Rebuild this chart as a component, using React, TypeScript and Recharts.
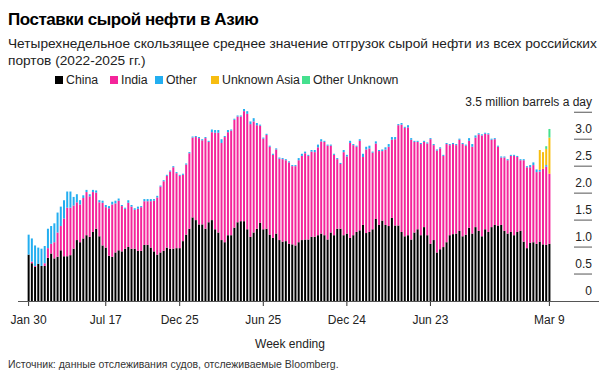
import React from 'react';
import { BarChart, Bar, XAxis, YAxis } from 'recharts';

// weekly values, million barrels a day, week ending Jan 30 2022 .. Mar 9 2025
const china = [
  0.86, 0.70, 0.63, 0.69, 0.65, 0.65, 0.80, 0.88, 0.79, 0.82,
  0.94, 0.83, 0.83, 0.85, 0.97, 1.13, 1.09, 1.16, 1.22, 1.19,
  1.28, 1.34, 1.20, 1.03, 0.99, 0.84, 0.82, 0.90, 0.94, 0.92,
  0.97, 1.00, 0.97, 0.97, 0.93, 0.93, 1.04, 1.04, 0.99, 0.92,
  0.86, 0.90, 0.93, 0.99, 0.97, 0.97, 0.98, 0.98, 1.11, 1.23,
  1.34, 1.55, 1.50, 1.42, 1.42, 1.34, 1.46, 1.50, 1.33, 1.27,
  1.13, 1.09, 1.22, 1.22, 1.36, 1.46, 1.48, 1.48, 1.33, 1.19,
  1.27, 1.34, 1.45, 1.33, 1.34, 1.23, 1.17, 1.25, 1.13, 1.10,
  1.11, 1.06, 1.05, 1.03, 1.09, 1.13, 1.14, 1.14, 1.19, 1.19,
  1.22, 1.25, 1.22, 1.14, 1.27, 1.22, 1.34, 1.34, 1.22, 1.25,
  1.17, 1.22, 1.28, 1.31, 1.41, 1.26, 1.28, 1.33, 1.52, 1.41,
  1.49, 1.41, 1.39, 1.54, 1.40, 1.40, 1.28, 1.20, 1.22, 1.14,
  1.27, 1.33, 1.22, 1.37, 1.22, 1.06, 1.13, 0.90, 0.96, 1.00,
  1.09, 1.22, 1.24, 1.25, 1.30, 1.20, 1.23, 1.36, 1.25, 1.37,
  1.30, 1.20, 1.33, 1.28, 1.37, 1.41, 1.40, 1.41, 1.30, 1.25,
  1.28, 1.22, 1.28, 1.30, 1.10, 0.98, 1.08, 1.09, 1.06, 1.10,
  1.05, 1.04, 1.06,
];

const india = [
  0.00, 0.03, 0.02, 0.00, 0.00, 0.05, 0.18, 0.18, 0.30, 0.45,
  0.45, 0.70, 0.90, 0.88, 0.80, 0.70, 0.70, 0.75, 0.80, 0.75,
  0.74, 0.67, 0.63, 0.79, 0.75, 0.88, 0.97, 0.91, 0.92, 0.84,
  0.74, 0.82, 0.78, 0.72, 0.78, 0.81, 0.81, 0.81, 0.86, 0.94,
  1.06, 1.22, 1.29, 1.33, 1.43, 1.51, 1.39, 1.34, 1.23, 1.30,
  1.40, 1.48, 1.54, 1.60, 1.56, 1.68, 1.49, 1.63, 1.79, 1.85,
  1.80, 1.95, 1.91, 1.94, 2.00, 1.96, 1.94, 2.04, 2.14, 2.09,
  2.06, 1.92, 1.80, 1.68, 1.74, 1.63, 1.54, 1.56, 1.51, 1.53,
  1.50, 1.51, 1.45, 1.47, 1.52, 1.56, 1.60, 1.55, 1.58, 1.57,
  1.63, 1.71, 1.73, 1.74, 1.61, 1.49, 1.29, 1.20, 1.54, 1.43,
  1.76, 1.67, 1.58, 1.66, 1.26, 1.55, 1.55, 1.42, 1.40, 1.37,
  1.29, 1.40, 1.47, 1.45, 1.60, 1.86, 1.99, 2.01, 2.00, 1.85,
  1.68, 1.62, 1.69, 1.58, 1.70, 1.94, 1.76, 1.89, 1.87, 1.69,
  1.82, 1.67, 1.67, 1.64, 1.69, 1.71, 1.65, 1.61, 1.61, 1.66,
  1.79, 1.87, 1.77, 1.81, 1.62, 1.59, 1.46, 1.25, 1.36, 1.36,
  1.41, 1.47, 1.39, 1.31, 1.51, 1.50, 1.40, 1.43, 1.33, 1.30,
  1.40, 1.45, 1.30,
];

const other = [
  0.37, 0.43, 0.38, 0.30, 0.32, 0.32, 0.36, 0.33, 0.35, 0.37,
  0.36, 0.34, 0.30, 0.30, 0.16, 0.15, 0.08, 0.05, 0.04, 0.04,
  0.04, 0.04, 0.04, 0.04, 0.04, 0.04, 0.05, 0.05, 0.04, 0.02,
  0.02, 0.05, 0.03, 0.03, 0.04, 0.02, 0.04, 0.04, 0.04, 0.03,
  0.03, 0.02, 0.02, 0.02, 0.02, 0.02, 0.02, 0.02, 0.02, 0.02,
  0.02, 0.02, 0.02, 0.02, 0.02, 0.02, 0.02, 0.05, 0.05, 0.05,
  0.07, 0.02, 0.04, 0.02, 0.02, 0.02, 0.02, 0.04, 0.05, 0.05,
  0.06, 0.04, 0.02, 0.02, 0.02, 0.02, 0.02, 0.02, 0.02, 0.02,
  0.02, 0.02, 0.02, 0.02, 0.04, 0.04, 0.03, 0.02, 0.03, 0.04,
  0.05, 0.04, 0.02, 0.02, 0.02, 0.02, 0.02, 0.02, 0.04, 0.03,
  0.04, 0.02, 0.02, 0.03, 0.06, 0.05, 0.05, 0.02, 0.04, 0.02,
  0.03, 0.04, 0.05, 0.05, 0.04, 0.02, 0.03, 0.02, 0.04, 0.03,
  0.02, 0.02, 0.02, 0.02, 0.02, 0.02, 0.02, 0.02, 0.02, 0.02,
  0.02, 0.02, 0.02, 0.02, 0.02, 0.02, 0.02, 0.05, 0.05, 0.04,
  0.02, 0.02, 0.02, 0.02, 0.02, 0.02, 0.02, 0.02, 0.02, 0.02,
  0.02, 0.02, 0.02, 0.02, 0.02, 0.02, 0.04, 0.05, 0.05, 0.03,
  0.00, 0.03, 0.00,
];

const unknownAsia = [
  0, 0, 0, 0, 0, 0, 0, 0, 0, 0, 0, 0, 0, 0, 0, 0, 0, 0, 0, 0,
  0, 0, 0, 0, 0, 0, 0, 0, 0, 0, 0, 0, 0, 0, 0, 0, 0, 0, 0, 0,
  0, 0, 0, 0, 0, 0, 0, 0, 0, 0, 0, 0, 0, 0, 0, 0, 0, 0, 0, 0,
  0, 0, 0, 0, 0, 0, 0, 0, 0, 0, 0, 0, 0, 0, 0, 0, 0, 0, 0, 0,
  0, 0, 0, 0, 0, 0, 0, 0, 0, 0, 0, 0, 0, 0, 0, 0, 0, 0, 0, 0,
  0, 0, 0, 0, 0, 0, 0, 0, 0, 0, 0, 0, 0, 0, 0, 0, 0, 0, 0, 0,
  0, 0, 0, 0, 0, 0, 0, 0, 0, 0, 0, 0, 0, 0, 0, 0, 0, 0, 0, 0,
  0, 0, 0, 0, 0, 0, 0, 0, 0, 0, 0, 0, 0, 0, 0, 0, 0, 0, 0, 0.37,
  0.31, 0.30, 0.67,
];

const otherUnknown = [
  0, 0, 0, 0, 0, 0, 0, 0, 0, 0, 0, 0, 0, 0, 0, 0, 0, 0, 0, 0,
  0, 0, 0, 0, 0, 0, 0, 0, 0, 0, 0, 0, 0, 0, 0, 0, 0, 0, 0, 0,
  0, 0, 0, 0, 0, 0, 0, 0, 0, 0, 0, 0, 0, 0, 0, 0, 0, 0, 0, 0,
  0, 0, 0, 0, 0, 0, 0, 0, 0, 0, 0, 0, 0, 0, 0, 0, 0, 0, 0, 0,
  0, 0, 0, 0, 0, 0, 0, 0, 0, 0, 0, 0, 0, 0, 0, 0, 0, 0, 0, 0,
  0, 0, 0, 0, 0, 0, 0, 0, 0, 0, 0, 0, 0, 0, 0, 0, 0, 0, 0, 0,
  0, 0, 0, 0, 0, 0, 0, 0, 0, 0, 0, 0, 0, 0, 0, 0, 0, 0, 0, 0,
  0, 0, 0, 0, 0, 0, 0, 0, 0, 0, 0, 0, 0, 0, 0, 0, 0, 0, 0, 0,
  0, 0.05, 0.16,
];

const tickWeeks = ['2022-01-30', '2022-07-17', '2022-12-25', '2023-06-25', '2023-12-24', '2024-06-23', '2025-03-09'];
const tickLabels = ['Jan 30', 'Jul 17', 'Dec 25', 'Jun 25', 'Dec 24', 'Jun 23', 'Mar 9'];
const yTicks = [0, 0.5, 1, 1.5, 2, 2.5, 3, 3.5];

const COLORS = {
  china: '#000000',
  india: '#f4249a',
  other: '#23aef0',
  unknownAsia: '#f7bd10',
  otherUnknown: '#45e08e',
};

const FONT = '"Liberation Sans", Arial, Helvetica, sans-serif';

const START = Date.UTC(2022, 0, 30);
const data = china.map((c, i) => ({
  week: new Date(START + i * 7 * 86400000).toISOString().slice(0, 10),
  china: c,
  india: india[i],
  other: other[i],
  unknownAsia: unknownAsia[i],
  otherUnknown: otherUnknown[i],
}));

const legendItems = [
  { key: 'china', label: 'China', left: 55 },
  { key: 'india', label: 'India', left: 110 },
  { key: 'other', label: 'Other', left: 155 },
  { key: 'unknownAsia', label: 'Unknown Asia', left: 211 },
  { key: 'otherUnknown', label: 'Other Unknown', left: 302 },
];

function YTick(props: any) {
  const { y, payload } = props;
  const v = payload.value;
  const label = v === 3.5 ? '3.5 million barrels a day' : v === 0 ? '0' : v.toFixed(1);
  return (
    <g>
      {v !== 0 && <line x1={574} x2={592} y1={y} y2={y} stroke="#555" strokeWidth={1} />}
      <text x={592} y={y - 6} textAnchor="end" fontSize={12} fill="#222" fontFamily={FONT}>
        {label}
      </text>
    </g>
  );
}

export default function App() {
  return (
    <div style={{ position: 'absolute', left: 0, top: 0, width: 601, height: 373, background: '#fff', fontFamily: FONT, color: '#000', overflow: 'hidden' }}>
      <div style={{ position: 'absolute', left: 8, top: 10, fontSize: 17, fontWeight: 'bold', lineHeight: '20px', letterSpacing: -0.45 }}>
        Поставки сырой нефти в Азию
      </div>
      <div style={{ position: 'absolute', left: 8, top: 35, width: 595, fontSize: 13.7, lineHeight: '17px', color: '#222' }}>
        Четырехнедельное скользящее среднее значение отгрузок сырой нефти из всех российских портов (2022-2025 гг.)
      </div>
      {legendItems.map((it) => (
        <div key={it.key} style={{ position: 'absolute', left: it.left, top: 73, fontSize: 12.3, lineHeight: '15px', color: '#222', whiteSpace: 'nowrap' }}>
          <span style={{ display: 'inline-block', width: 8, height: 8, background: (COLORS as any)[it.key], marginRight: 3 }} />
          {it.label}
        </div>
      ))}
      <div style={{ position: 'absolute', left: 0, top: 0 }}>
        <BarChart width={601} height={373} data={data} margin={{ top: 109, right: 0, bottom: 42, left: 27 }} barCategoryGap="20%">
          <XAxis
            dataKey="week"
            ticks={tickWeeks}
            interval={0}
            axisLine={false}
            tickLine={{ stroke: '#333' }}
            tickSize={5}
            tickMargin={9}
            height={30}
            tick={{ fontSize: 12, fill: '#222', fontFamily: FONT }}
            tickFormatter={(w: string) => tickLabels[tickWeeks.indexOf(w)]}
          />
          <YAxis
            orientation="right"
            width={50}
            domain={[0, 3.5]}
            ticks={yTicks}
            interval={0}
            axisLine={false}
            tickLine={false}
            tick={<YTick />}
          />
          <Bar dataKey="china" stackId="a" fill={COLORS.china} isAnimationActive={false} />
          <Bar dataKey="india" stackId="a" fill={COLORS.india} isAnimationActive={false} />
          <Bar dataKey="other" stackId="a" fill={COLORS.other} isAnimationActive={false} />
          <Bar dataKey="unknownAsia" stackId="a" fill={COLORS.unknownAsia} isAnimationActive={false} />
          <Bar dataKey="otherUnknown" stackId="a" fill={COLORS.otherUnknown} isAnimationActive={false} />
        </BarChart>
      </div>
      <div style={{ position: 'absolute', left: 18, top: 301, width: 581, height: 1, background: '#555' }} />
      <div style={{ position: 'absolute', left: 0, top: 337, width: 580, textAlign: 'center', fontSize: 12, color: '#222' }}>
        Week ending
      </div>
      <div style={{ position: 'absolute', left: 8, top: 358, fontSize: 10.5, color: '#333' }}>
        Источник: данные отслеживания судов, отслеживаемые Bloomberg.
      </div>
    </div>
  );
}
